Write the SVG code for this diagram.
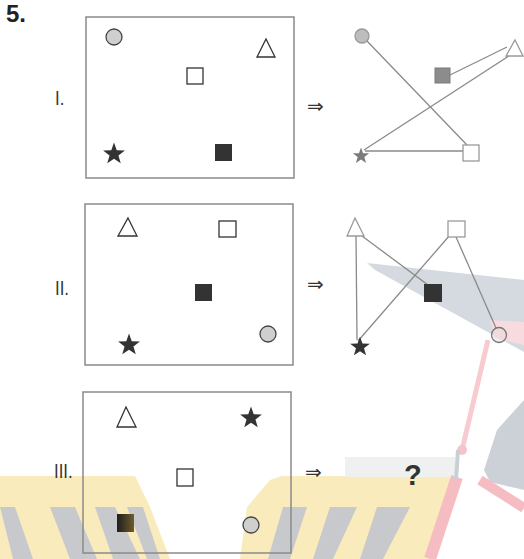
<svg xmlns="http://www.w3.org/2000/svg" xmlns:xlink="http://www.w3.org/1999/xlink" width="524" height="559" viewBox="0 0 524 559">
<style>
.box{fill:none;stroke:#8a8a8a;stroke-width:1.5}
.ol{fill:#fff;stroke:#333;stroke-width:1.3}
.dk{fill:#333;stroke:none}
.ci{fill:#cfcfcf;stroke:#444;stroke-width:1.3}
.g{fill:#fff;stroke:#9a9a9a;stroke-width:1.3}
.lbl{font-family:"Liberation Sans",Arial,sans-serif;font-size:21px;fill:#333}
.arr{font-family:"DejaVu Sans",sans-serif;font-size:20px;fill:#333}
.con line{stroke:#8a8a8a;stroke-width:1.3}
</style>
<defs>
<path id="star" d="M0,-11.5 L2.75,-3.8 L10.9,-3.55 L4.45,1.45 L6.75,9.3 L0,4.7 L-6.75,9.3 L-4.45,1.45 L-10.9,-3.55 L-2.75,-3.8 Z"/>
<linearGradient id="gsq" x1="0" y1="0" x2="1" y2="0">
<stop offset="0" stop-color="#1e1e1e"/><stop offset="1" stop-color="#6e5c2c"/>
</linearGradient>
</defs>
<rect width="524" height="559" fill="#fff"/>
<g id="watermark" opacity="0.6">
<polygon points="367,263 524,280 524,352 375,270" fill="#b9c3cc"/>
<polygon points="0,476 135,476 150,507 170,559 0,559" fill="#f6df8f"/>
<polygon points="270,480 282,476 440,476 455,477 430,559 240,559 247,507" fill="#f6df8f"/>
<polygon points="345,457 455,457 455,477 345,477" fill="#e6e9e8"/>
<polygon points="0,507 15,507 33,559 13,559" fill="#a4a6ac"/>
<polygon points="50,507 75,507 97,559 70,559" fill="#a4a6ac"/>
<polygon points="95,507 115,507 140,559 113,559" fill="#a4a6ac"/>
<polygon points="127,507 143,507 160,559 147,559" fill="#a4a6ac"/>
<polygon points="283,507 307,507 290,559 268,559" fill="#a4a6ac"/>
<polygon points="330,507 357,507 333,559 313,559" fill="#a4a6ac"/>
<polygon points="377,507 410,507 383,559 360,559" fill="#a4a6ac"/>
<polygon points="524,400 497,430 484,470 490,482 524,490" fill="#a9b4bc"/>
<line x1="488" y1="340" x2="462" y2="450" stroke="#f2aab2" stroke-width="5"/>
<circle cx="462" cy="450" r="5" fill="#f09ea7"/>
<line x1="457" y1="477" x2="430" y2="559" stroke="#f0909b" stroke-width="12"/>
<line x1="480" y1="480" x2="524" y2="508" stroke="#f0909b" stroke-width="10"/>
<line x1="458" y1="450" x2="456" y2="480" stroke="#a4b2ba" stroke-width="4"/>
<polygon points="490,320 524,322 524,345 495,338" fill="#f4c4ca"/>
</g>
<text x="6" y="22" style="font-family:'Liberation Sans',Arial,sans-serif;font-size:24px;font-weight:bold;fill:#222">5.</text>
<text class="lbl" transform="translate(55,105) scale(0.8,1)">I.</text>
<text class="lbl" transform="translate(55,295) scale(0.8,1)">II.</text>
<text class="lbl" transform="translate(54,478) scale(0.8,1)">III.</text>
<text class="arr" x="307" y="113">⇒</text>
<text class="arr" x="307" y="291">⇒</text>
<text class="arr" x="305" y="479">⇒</text>
<text x="404" y="485" style="font-family:'Liberation Sans',Arial,sans-serif;font-size:29px;font-weight:bold;fill:#333">?</text>
<g id="boxes">
<rect id="box1" class="box" x="86" y="17" width="208" height="161"/>
<rect id="box2" class="box" x="85" y="204" width="208" height="161"/>
<rect id="box3" class="box" x="83" y="392" width="208" height="161"/>
</g>
<g class="con" id="connectors">
<line x1="366" y1="40" x2="467" y2="145"/>
<line x1="450" y1="75" x2="507" y2="47"/>
<line x1="364" y1="150" x2="512" y2="54"/>
<line x1="365" y1="151" x2="463" y2="151"/>
<line x1="356" y1="236" x2="357" y2="340"/>
<line x1="362" y1="236" x2="428" y2="285"/>
<line x1="358" y1="341" x2="450" y2="235"/>
<line x1="456" y1="237" x2="496" y2="328"/>
</g>
<g id="n1-circle"><circle class="ci" cx="114" cy="37" r="8"/></g>
<g id="n1-triangle"><polygon class="ol" points="266,39 275,57 257,57"/></g>
<g id="n1-square"><rect class="ol" x="187" y="68" width="16" height="16"/></g>
<g id="n1-star"><use xlink:href="#star" href="#star" x="114" y="154" fill="#333"/></g>
<g id="n1-fsquare"><rect class="dk" x="215" y="144" width="17" height="17"/></g>
<g id="r1-circle"><circle cx="362" cy="36" r="7" fill="#bdbdbd" stroke="#999" stroke-width="1.3"/></g>
<g id="r1-triangle"><polygon class="g" points="515,40 523,56 506,56"/></g>
<g id="r1-fsquare"><rect x="435" y="68" width="15" height="15" fill="#8c8c8c" stroke="#7a7a7a" stroke-width="1"/></g>
<g id="r1-square"><rect class="g" x="463" y="145" width="16" height="16"/></g>
<g id="r1-star"><use xlink:href="#star" href="#star" transform="translate(361,156) scale(0.75)" fill="#7c7c7c"/></g>
<g id="n2-triangle"><polygon class="ol" points="128,218 137,236 118,236"/></g>
<g id="n2-square"><rect class="ol" x="219" y="221" width="17" height="16"/></g>
<g id="n2-fsquare"><rect class="dk" x="195" y="284" width="17" height="17"/></g>
<g id="n2-circle"><circle class="ci" cx="268" cy="334" r="8"/></g>
<g id="n2-star"><use xlink:href="#star" href="#star" x="129" y="345" fill="#333"/></g>
<g id="r2-triangle"><polygon class="g" points="355,218 364,236 347,236" stroke="#777"/></g>
<g id="r2-square"><rect class="g" x="448" y="221" width="17" height="16" stroke="#777"/></g>
<g id="r2-fsquare"><rect class="dk" x="424" y="284" width="18" height="18"/></g>
<g id="r2-circle"><circle cx="499" cy="335" r="7.5" fill="#e6dadd" fill-opacity="0.5" stroke="#777" stroke-width="1.3"/></g>
<g id="r2-star"><use xlink:href="#star" href="#star" transform="translate(360,347) scale(0.9)" fill="#333"/></g>
<g id="n3-triangle"><polygon class="ol" points="126,407 136,427 117,427"/></g>
<g id="n3-star"><use xlink:href="#star" href="#star" x="251" y="418" fill="#333"/></g>
<g id="n3-square"><rect class="ol" x="177" y="469" width="16" height="17"/></g>
<g id="n3-fsquare"><rect x="117" y="514" width="17" height="18" fill="url(#gsq)"/></g>
<g id="n3-circle"><circle class="ci" cx="251" cy="525" r="8" fill="#d8d8d8"/></g>
</svg>
